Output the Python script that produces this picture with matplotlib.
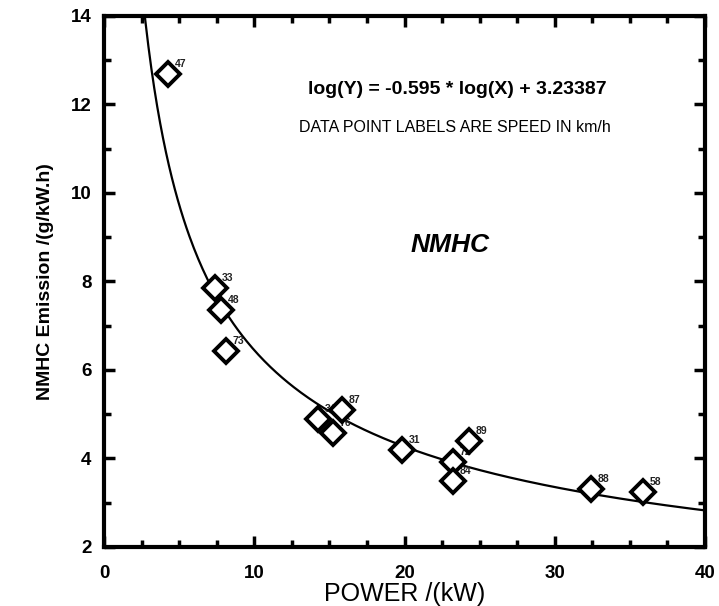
import numpy as np
import matplotlib.pyplot as plt
from matplotlib.ticker import MultipleLocator

plt.rcParams['font.family'] = ['Liberation Sans', 'DejaVu Sans']

# power (kW), NMHC emission (g/kW.h), speed labels (km/h)
power = [4.26, 7.39, 7.78, 8.12, 14.24, 15.84, 15.24, 19.83, 23.22, 23.22, 24.28, 32.4, 35.86]
emission = [12.69, 7.85, 7.36, 6.43, 4.89, 5.10, 4.58, 4.19, 3.92, 3.49, 4.40, 3.31, 3.24]
speeds = ['47', '33', '48', '73', '34', '87', '76', '31', '72', '84', '89', '88', '58']

# fitted power law: ln(Y) = -0.595 ln(X) + 3.23387
slope = -0.595
intercept = 3.23387

fig = plt.figure(figsize=(7.19, 6.06), dpi=100)
ax = fig.add_axes([0.1446, 0.0974, 0.836, 0.8762])

xfit = np.linspace(1.0, 40, 400)
yfit = np.exp(slope * np.log(xfit) + intercept)
ax.plot(xfit, yfit, color='black', lw=1.6, zorder=2)

ax.plot(power, emission, linestyle='none', marker='D', markersize=12,
        markerfacecolor='white', markeredgecolor='black', markeredgewidth=2.8, zorder=3)
for x, y, s in zip(power, emission, speeds):
    ax.annotate(s, (x, y), xytext=(5, 5), textcoords='offset points',
                fontsize=7.5, fontweight='bold', color='#222222', zorder=2)

ax.set_xlim(0, 40)
ax.set_ylim(2, 14)
ax.xaxis.set_major_locator(MultipleLocator(10))
ax.xaxis.set_minor_locator(MultipleLocator(2.5))
ax.yaxis.set_major_locator(MultipleLocator(2))
ax.yaxis.set_minor_locator(MultipleLocator(1))
ax.tick_params(which='both', direction='in', top=True, right=True, width=2.5)
ax.tick_params(which='major', length=8, labelsize=13.5)
ax.tick_params(axis='x', which='major', pad=13)
ax.tick_params(axis='y', which='major', pad=9)
ax.tick_params(which='minor', length=5)
for lbl in ax.get_xticklabels() + ax.get_yticklabels():
    lbl.set_fontweight('bold')
for sp in ax.spines.values():
    sp.set_linewidth(3)

ax.set_xlabel('POWER /(kW)', fontsize=18, labelpad=0)
ax.set_ylabel('NMHC Emission /(g/kW.h)', fontsize=14, fontweight='bold', labelpad=12)

ax.text(13.6, 12.33, 'log(Y) = -0.595 * log(X) + 3.23387', fontsize=14,
        fontweight='bold', va='center')
ax.text(13.0, 11.49, 'DATA POINT LABELS ARE SPEED IN km/h', fontsize=11.5, va='center')
ax.text(23.0, 8.82, 'NMHC', fontsize=19, fontweight='bold', fontstyle='italic',
        ha='center', va='center')

fig.savefig('out.png', dpi=100)
